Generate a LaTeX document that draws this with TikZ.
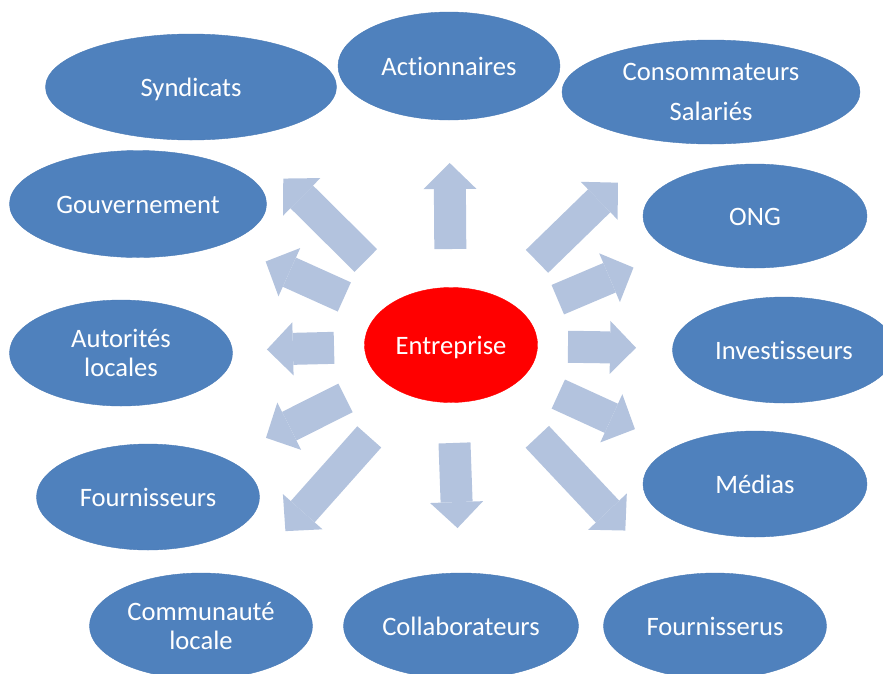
\documentclass[tikz,border=0pt]{standalone}
\usepackage{fontspec}
\setmainfont[Ligatures=NoCommon]{Carlito}
\usetikzlibrary{shapes.geometric,positioning,arrows.meta}
\definecolor{stakeblue}{HTML}{4F81BD}
\definecolor{stakeline}{HTML}{4A7BB6}
\definecolor{flowblue}{HTML}{B3C3DE}
\tikzset{stake/.style={ellipse, draw=stakeline, fill=stakeblue, text=white, inner sep=0pt, minimum width=223pt, minimum height=106pt, align=center, font=\fontsize{26.6}{29}\selectfont},
	firm/.style={ellipse, draw=red, fill=red, text=white, inner sep=0pt, minimum width=173pt, minimum height=115pt, font=\fontsize{26.6}{29}\selectfont},
	oneline/.style={text height=22pt, text depth=4pt},
	flow/.style={draw=flowblue, line width=32pt, -{Triangle[width=53pt,length=26pt,line width=0pt]}}
}

\begin{document}
\begin{tikzpicture}[x=1pt, y=-1pt, on grid]
	\useasboundingbox (0,0) rectangle (883,673);
	\node[firm, oneline] (ent) at (451,345) {Entreprise};
	
	\node[stake, oneline, above=279pt of ent, xshift=-2pt, minimum width=222pt, minimum height=108pt] (act) {Actionnaires};
	\node[stake, above right=253pt and 260pt of ent, minimum width=298pt, minimum height=104pt] (cons) {Consommateurs\\[11pt]Salariés};
	\node[stake, oneline, above left=258pt and 260pt of ent, minimum width=291pt] (synd) {Syndicats};
	\node[stake, oneline, above left=141pt and 313pt of ent, minimum width=257pt, minimum height=107pt] (gouv) {Gouvernement};
	\node[stake, oneline, above right=129pt and 304pt of ent, minimum width=224pt, minimum height=104pt] (ong) {ONG};
	\node[stake, left=330pt of ent, yshift=-8pt] (aut) {Autorités\\locales};
	\node[stake, oneline, right=333pt of ent, yshift=-5pt] (inv) {Investisseurs};
	\node[stake, oneline, below left=152pt and 303pt of ent] (four) {Fournisseurs};
	\node[stake, oneline, below right=139pt and 304pt of ent, minimum width=224pt] (med) {Médias};
	\node[stake, below left=281pt and 250pt of ent] (comm) {Communauté\\locale};
	\node[stake, oneline, below=281pt of ent, xshift=10pt, minimum width=235pt] (collab) {Collaborateurs};
	\node[stake, oneline, below right=281pt and 264pt of ent] (fourb) {Fournisserus};
	
	% block arrows
	\draw[flow, shorten <=96pt, shorten >=97pt] (ent.center) -- (act.center);
	\draw[flow, shorten <=120pt, shorten >=130pt] (ent.center) -- (cons.center);
	\draw[flow, shorten <=116pt, shorten >=132pt] (ent.center) -- (ong.center);
	\draw[flow, shorten <=117pt, shorten >=148pt] (ent.center) -- (inv.center);
	\draw[flow, shorten <=118pt, shorten >=132pt] (ent.center) -- (med.center);
	\draw[flow, shorten <=126pt, shorten >=131pt] (ent.center) -- (fourb.center);
	\draw[flow, shorten <=98pt, shorten >=98pt] (ent.center) -- (collab.center);
	\draw[flow, shorten <=123pt, shorten >=127pt] (ent.center) -- (comm.center);
	\draw[flow, shorten <=118pt, shorten >=132pt] (ent.center) -- (four.center);
	\draw[flow, shorten <=117pt, shorten >=146pt] (ent.center) -- (aut.center);
	\draw[flow, shorten <=117pt, shorten >=140pt] (ent.center) -- (gouv.center);
	\draw[flow, shorten <=120pt, shorten >=130pt] (ent.center) -- (synd.center);
\end{tikzpicture}
\end{document}
